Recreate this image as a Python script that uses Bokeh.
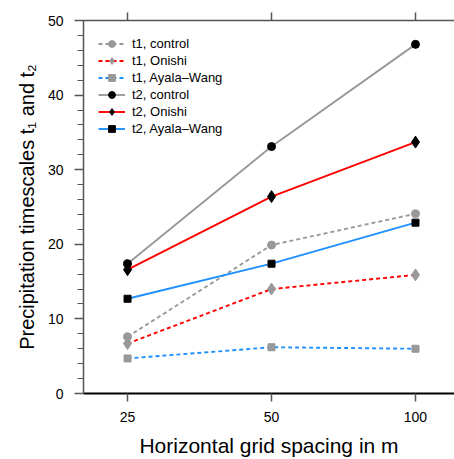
from bokeh.plotting import figure
from bokeh.models import FixedTicker, LinearAxis, Legend, LegendItem, Range1d
from bokeh.embed import file_html
from bokeh.resources import INLINE

categories = ["25", "50", "100"]
t1_control = [7.6, 19.9, 24.1]
t1_onishi = [6.7, 14.0, 15.9]
t1_ayala = [4.7, 6.2, 6.0]
t2_control = [17.4, 33.1, 46.8]
t2_onishi = [16.6, 26.4, 33.7]
t2_ayala = [12.7, 17.4, 22.9]
y_ticks = [0, 10, 20, 30, 40, 50]

xs = list(range(len(categories)))
FONT = "Liberation Sans"
GRAY = "#999999"
RED = "#ff0000"
BLUE = "#1e90ff"

p = figure(width=454, height=459, output_backend="svg", toolbar_location=None,
           x_range=Range1d(-0.306, 2.271), y_range=Range1d(0, 50),
           min_border_left=83, min_border_right=0, min_border_top=20, min_border_bottom=65)
p.outline_line_color = None
p.xgrid.visible = False
p.ygrid.visible = False
p.background_fill_color = "white"

series = [
    ("t1, control", t1_control, GRAY, "dashed", "circle", GRAY, 8),
    ("t1, Onishi", t1_onishi, RED, "dashed", "diamond", GRAY, 12),
    ("t1, Ayala\u2013Wang", t1_ayala, BLUE, "dashed", "square", GRAY, 7),
    ("t2, control", t2_control, GRAY, "solid", "circle", "black", 8),
    ("t2, Onishi", t2_onishi, RED, "solid", "diamond", "black", 12),
    ("t2, Ayala\u2013Wang", t2_ayala, BLUE, "solid", "square", "black", 7),
]
items = []
for label, ys, lc, dash, marker, mc, ms in series:
    l = p.line(xs, ys, line_color=lc, line_width=1.9,
               line_dash=("4 3" if dash == "dashed" else "solid"))
    s = p.scatter(xs, ys, marker=marker, size=ms, fill_color=mc, line_color=mc)
    items.append(LegendItem(label=label, renderers=[l, s]))

legend = Legend(items=items, location="top_left", border_line_color=None,
                background_fill_alpha=0, margin=15, padding=10,
                glyph_width=27, glyph_height=17, label_height=17, spacing=0,
                label_standoff=7, label_text_font=FONT, label_text_font_size="13px",
                label_text_color="black")
p.add_layout(legend)

# bottom axis
xa = p.xaxis[0]
xa.ticker = FixedTicker(ticks=xs)
xa.major_label_overrides = {i: c for i, c in enumerate(categories)}
xa.axis_label = "Horizontal grid spacing in m"
xa.axis_label_text_font = FONT
xa.axis_label_text_font_style = "normal"
xa.axis_label_text_font_size = "21px"
xa.axis_label_text_color = "black"
xa.axis_label_standoff = 9
xa.major_label_text_font = FONT
xa.major_label_text_font_size = "14px"
xa.major_label_text_color = "black"
xa.major_label_standoff = 10
xa.axis_line_color = "black"
xa.axis_line_width = 2
xa.major_tick_line_color = "#555555"
xa.major_tick_line_width = 1.5
xa.major_tick_out = 8
xa.major_tick_in = 0
xa.minor_tick_line_color = None

# left axis
ya = p.yaxis[0]
ya.ticker = FixedTicker(ticks=y_ticks, minor_ticks=list(range(0, 51, 2)))
ya.axis_label = "Precipitation timescales t\u2081 and t\u2082"
ya.axis_label_text_font = FONT
ya.axis_label_text_font_style = "normal"
ya.axis_label_text_font_size = "20px"
ya.axis_label_text_color = "black"
ya.axis_label_standoff = 7
ya.major_label_text_font = FONT
ya.major_label_text_font_size = "14px"
ya.major_label_text_color = "black"
ya.major_label_standoff = 11
ya.axis_line_color = "#555555"
ya.axis_line_width = 1.5
ya.major_tick_line_color = "#555555"
ya.major_tick_line_width = 1.5
ya.major_tick_out = 9
ya.major_tick_in = 0
ya.minor_tick_line_color = "#555555"
ya.minor_tick_line_width = 1.2
ya.minor_tick_out = 6
ya.minor_tick_in = 0

# top axis (frame line with ticks, no labels)
top = LinearAxis(ticker=FixedTicker(ticks=xs),
                 major_label_overrides={i: "" for i in xs},
                 axis_line_color="#555555", axis_line_width=1.5,
                 major_tick_line_color="#555555", major_tick_line_width=1.5,
                 major_tick_out=8, major_tick_in=0, minor_tick_line_color=None,
                 major_label_standoff=0)
p.add_layout(top, "above")

open("out.html", "w").write(file_html(p, INLINE))
